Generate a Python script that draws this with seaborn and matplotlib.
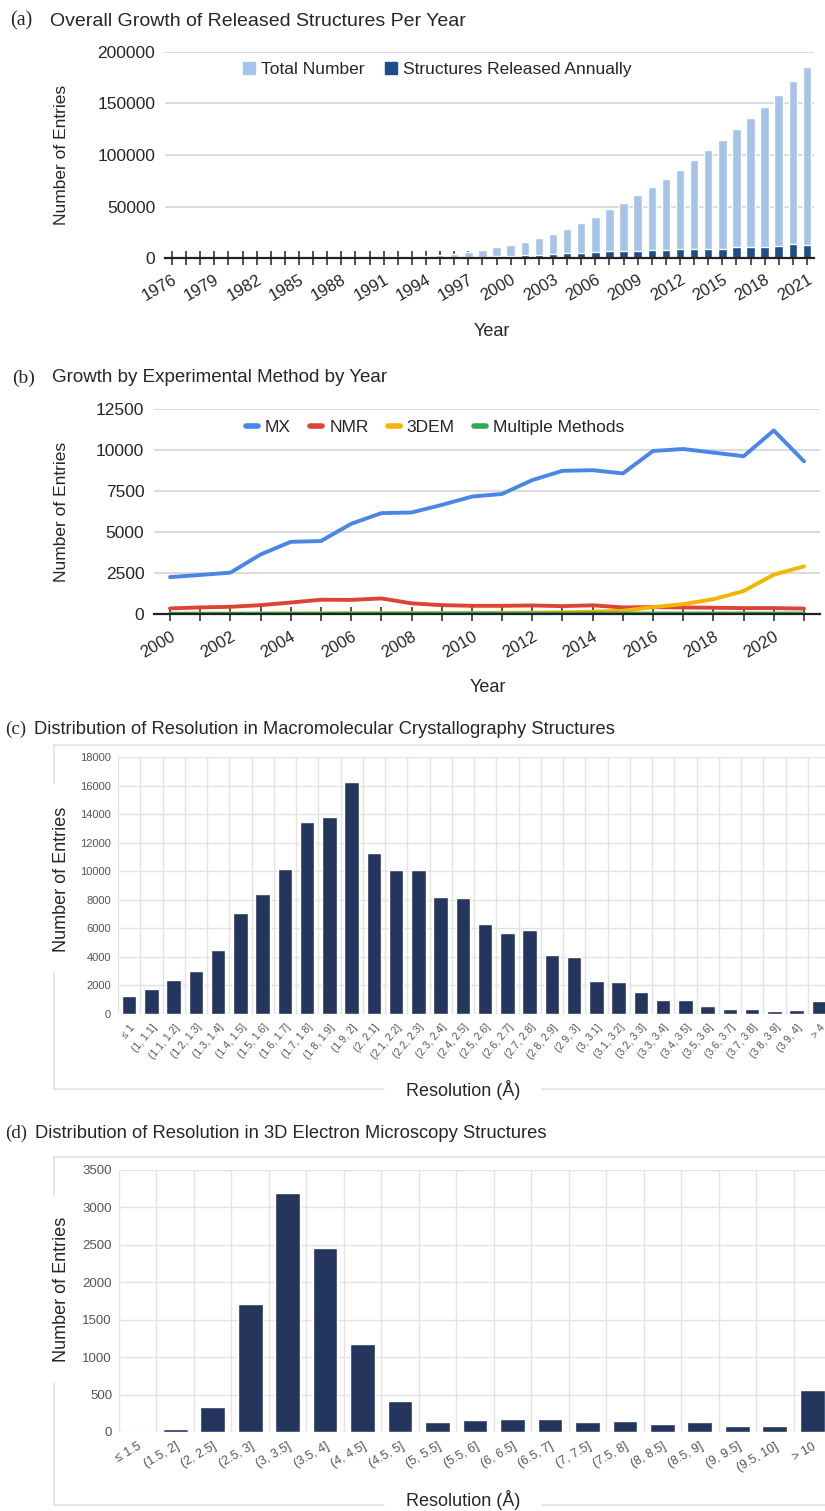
import numpy as np
import pandas as pd
import matplotlib
matplotlib.use("Agg")
import matplotlib.pyplot as plt
import seaborn as sns
from matplotlib.lines import Line2D

# ---------------- data ----------------
years_a = list(range(1976, 2022))
total_entries = [13, 36, 56, 69, 80, 114, 157, 200, 250, 284, 300, 338, 400, 475,
                 661, 883, 1231, 1500, 1900, 3200, 4500, 6100, 8000, 10900,
                 13200, 15800, 19300, 23200, 28000, 33800, 39600, 47400, 53800,
                 61500, 69300, 76700, 85400, 95000, 104700, 114400, 124800,
                 135400, 146600, 158000, 172000, 185500]
annual_entries = [13, 23, 20, 13, 11, 34, 43, 43, 50, 34, 16, 38, 62, 75,
                  186, 222, 348, 400, 500, 700, 900, 1100, 1400, 1900,
                  2620, 2820, 2980, 4200, 5120, 5350, 6400, 7150, 6900,
                  7250, 7730, 7880, 8760, 9330, 9480, 9200, 10800, 11100,
                  11150, 11430, 13980, 12580]

years_b = list(range(2000, 2022))
mx = [2250, 2380, 2520, 3630, 4400, 4450, 5500, 6150, 6190, 6650, 7160, 7320,
      8165, 8730, 8770, 8570, 9940, 10060, 9840, 9620, 11190, 9310]
nmr = [340, 400, 440, 540, 700, 870, 860, 950, 650, 540, 500, 500, 520, 480,
       530, 400, 420, 400, 380, 360, 360, 330]
em3d = [15, 18, 20, 25, 30, 35, 40, 45, 50, 55, 60, 70, 80, 100, 140, 200,
        420, 600, 900, 1400, 2400, 2900]
multi = [8, 10, 12, 14, 15, 16, 18, 20, 22, 24, 25, 26, 28, 30, 32, 30, 28,
         30, 32, 30, 28, 26]
methods = ["MX", "NMR", "3DEM", "Multiple Methods"]

mx_res_labels = ["≤ 1", "(1, 1.1]", "(1.1, 1.2]", "(1.2, 1.3]", "(1.3, 1.4]",
                 "(1.4, 1.5]", "(1.5, 1.6]", "(1.6, 1.7]", "(1.7, 1.8]",
                 "(1.8, 1.9]", "(1.9, 2]", "(2, 2.1]", "(2.1, 2.2]",
                 "(2.2, 2.3]", "(2.3, 2.4]", "(2.4, 2.5]", "(2.5, 2.6]",
                 "(2.6, 2.7]", "(2.7, 2.8]", "(2.8, 2.9]", "(2.9, 3]",
                 "(3, 3.1]", "(3.1, 3.2]", "(3.2, 3.3]", "(3.3, 3.4]",
                 "(3.4, 3.5]", "(3.5, 3.6]", "(3.6, 3.7]", "(3.7, 3.8]",
                 "(3.8, 3.9]", "(3.9, 4]", "> 4"]
mx_res_counts = [1280, 1750, 2380, 3030, 4500, 7090, 8420, 10170, 13440, 13810,
                 16240, 11290, 10100, 10100, 8210, 8140, 6300, 5670, 5860,
                 4110, 3970, 2330, 2220, 1520, 960, 960, 580, 370, 350, 230,
                 280, 890]

em_res_labels = ["≤ 1.5", "(1.5, 2]", "(2, 2.5]", "(2.5, 3]", "(3, 3.5]",
                 "(3.5, 4]", "(4, 4.5]", "(4.5, 5]", "(5, 5.5]", "(5.5, 6]",
                 "(6, 6.5]", "(6.5, 7]", "(7, 7.5]", "(7.5, 8]", "(8, 8.5]",
                 "(8.5, 9]", "(9, 9.5]", "(9.5, 10]", "> 10"]
em_res_counts = [0, 40, 340, 1710, 3190, 2460, 1180, 420, 135, 165, 170, 180,
                 135, 147, 103, 135, 85, 85, 558]

# ---------------- style ----------------
sns.set_theme(style="white")
plt.rcParams['font.family'] = ['Liberation Sans', 'DejaVu Sans']

LIGHT = '#a6c4e8'
DARK = '#1d4e89'
NAVY = '#24355e'
GRID = '#d4d4d4'
GRID2 = '#e3e3e3'
FRAME = '#e2e2e2'
TICKGRAY = '#555555'

W, H = 825, 1511
fig = plt.figure(figsize=(W / 100, H / 100), dpi=100)


def rect(left, top, right, bottom):
    return [left / W, 1 - bottom / H, (right - left) / W, (bottom - top) / H]


def ftext(x, y, s, **kw):
    return fig.text(x / W, 1 - y / H, s, **kw)


def fline(xs, ys, **kw):
    fig.add_artist(Line2D([x / W for x in xs], [1 - y / H for y in ys],
                          transform=fig.transFigure, **kw))


def panel_title(y, letter, text, xl, xt, size):
    ftext(xl, y, letter, family='Liberation Serif', fontsize=size + 0.5,
          va='center', ha='left')
    ftext(xt, y, text, fontsize=size, va='center', ha='left')


# ---------------- panel (a) ----------------
ax1 = fig.add_axes(rect(165, 51.7, 814, 258.3))
sns.barplot(x=years_a, y=total_entries, color=LIGHT, width=0.6, saturation=1,
            errorbar=None, ax=ax1)
sns.barplot(x=years_a, y=annual_entries, color=DARK, width=0.6, saturation=1,
            errorbar=None, ax=ax1)
ax1.set_xlim(-0.5, len(years_a) - 0.5)
ax1.set_ylim(0, 200000)
ax1.set_yticks(np.arange(0, 200001, 50000))
ax1.set_axisbelow(True)
ax1.yaxis.grid(True, color=GRID, linewidth=1.2)
ax1.xaxis.grid(False)
for s in ['left', 'right', 'top']:
    ax1.spines[s].set_visible(False)
ax1.spines['bottom'].set_color('#222222')
ax1.spines['bottom'].set_linewidth(1.6)
ax1.set_xticks(range(len(years_a)))
ax1.set_xticklabels([str(y) if (y - 1976) % 3 == 0 else '' for y in years_a],
                    rotation=30, ha='right', rotation_mode='anchor', fontsize=12)
ax1.tick_params(axis='x', direction='inout', length=10, width=1.1,
                color='#222222', pad=5, bottom=True)
ax1.tick_params(axis='y', length=0, labelsize=12.5, pad=7)
ax1.set_xlabel('')
ax1.set_ylabel('')
leg1 = ax1.legend(handles=[Line2D([], [], marker='s', linestyle='none', color=LIGHT, markersize=9),
                           Line2D([], [], marker='s', linestyle='none', color=DARK, markersize=9)],
                  labels=['Total Number', 'Structures Released Annually'],
                  loc='center', bbox_to_anchor=(436 / W, 1 - 69 / H),
                  bbox_transform=fig.transFigure, ncol=2, frameon=False,
                  fontsize=12.5, handletextpad=0.2, columnspacing=1.0,
                  handlelength=1.0)
panel_title(21, '(a)', 'Overall Growth of Released Structures Per Year', 10, 50, 14)
ftext(61, 155, 'Number of Entries', rotation=90, ha='center', va='center', fontsize=12.5)
ftext(492, 332, 'Year', ha='center', va='center', fontsize=13)

# ---------------- panel (b) ----------------
ax2 = fig.add_axes(rect(154, 409, 820, 614))
df_b = pd.DataFrame({
    'year': years_b * 4,
    'value': mx + nmr + em3d + multi,
    'method': [m for m in methods for _ in years_b],
})
palette_b = {'MX': '#4a86e8', 'NMR': '#db4437', '3DEM': '#f4b400',
             'Multiple Methods': '#34a853'}
sns.lineplot(data=df_b, x='year', y='value', hue='method', hue_order=methods,
             palette=palette_b, linewidth=2.8, legend=False, ax=ax2,
             solid_capstyle='round')
ax2.set_xlim(1999.47, 2021.53)
ax2.set_ylim(0, 12500)
ax2.set_yticks(np.arange(0, 12501, 2500))
ax2.set_axisbelow(True)
ax2.yaxis.grid(True, color=GRID, linewidth=1.2)
ax2.xaxis.grid(False)
for s in ['left', 'right', 'top']:
    ax2.spines[s].set_visible(False)
ax2.spines['bottom'].set_color('#222222')
ax2.spines['bottom'].set_linewidth(1.6)
ax2.set_xticks(years_b)
ax2.set_xticklabels([str(y) if y % 2 == 0 else '' for y in years_b],
                    rotation=30, ha='right', rotation_mode='anchor', fontsize=12)
ax2.tick_params(axis='x', direction='inout', length=10, width=1.1,
                color='#222222', pad=6, bottom=True)
ax2.tick_params(axis='y', length=0, labelsize=12.5, pad=7)
ax2.set_xlabel('')
ax2.set_ylabel('')
ax2.legend(handles=[Line2D([], [], color=palette_b[m], linewidth=4) for m in methods],
           labels=methods, loc='center', bbox_to_anchor=(435 / W, 1 - 427 / H),
           bbox_transform=fig.transFigure, ncol=4, frameon=False, fontsize=12.5,
           handlelength=0.7, handletextpad=0.4, columnspacing=1.1)
panel_title(378, '(b)', 'Growth by Experimental Method by Year', 12, 52, 13.5)
ftext(61, 512, 'Number of Entries', rotation=90, ha='center', va='center', fontsize=12.5)
ftext(488, 688, 'Year', ha='center', va='center', fontsize=13)


# ---------------- resolution panels ----------------
def resolution_panel(axrect, labels, counts, ymax, ystep, ytick_size,
                     xtick_size, rot):
    ax = fig.add_axes(axrect)
    sns.barplot(x=labels, y=counts, color=NAVY, width=0.66, saturation=1,
                errorbar=None, ax=ax)
    n = len(labels)
    ax.set_xlim(-0.5, n - 0.5)
    ax.set_ylim(0, ymax)
    ax.set_yticks(np.arange(0, ymax + 1, ystep))
    ax.set_xticks(np.arange(-0.5, n, 1.0), minor=True)
    ax.set_axisbelow(True)
    ax.yaxis.grid(True, color=GRID2, linewidth=1.0)
    ax.xaxis.grid(True, which='minor', color=GRID2, linewidth=1.0)
    ax.xaxis.grid(False, which='major')
    for s in ax.spines.values():
        s.set_visible(False)
    ax.set_xticks(range(n))
    ax.set_xticklabels(labels, rotation=rot, ha='right', va='top',
                       rotation_mode='anchor', fontsize=xtick_size,
                       color=TICKGRAY)
    ax.tick_params(axis='x', which='both', length=0, pad=6)
    ax.tick_params(axis='y', length=0, labelsize=ytick_size, pad=5,
                   labelcolor=TICKGRAY)
    ax.set_xlabel('')
    ax.set_ylabel('')
    return ax


ax3 = resolution_panel(rect(118, 757, 830, 1014), mx_res_labels, mx_res_counts,
                       18000, 2000, 8, 7.5, 50)
panel_title(729, '(c)', 'Distribution of Resolution in Macromolecular Crystallography Structures',
            5, 34, 13.2)
fline([54, 830], [745, 745], color=FRAME, linewidth=1.2)
fline([54, 54], [745, 783], color=FRAME, linewidth=1.2)
fline([54, 54], [973, 1089], color=FRAME, linewidth=1.2)
fline([54, 384], [1089, 1089], color=FRAME, linewidth=1.2)
fline([542, 830], [1089, 1089], color=FRAME, linewidth=1.2)
ftext(61, 879, 'Number of Entries', rotation=90, ha='center', va='center', fontsize=13)
ftext(463, 1090, 'Resolution (Å)', ha='center', va='center', fontsize=13)

ax4 = resolution_panel(rect(119, 1170, 831, 1432), em_res_labels, em_res_counts,
                       3500, 500, 9.5, 9, 30)
panel_title(1133, '(d)', 'Distribution of Resolution in 3D Electron Microscopy Structures',
            5, 35, 13.2)
fline([54, 830], [1157, 1157], color=FRAME, linewidth=1.2)
fline([54, 54], [1157, 1195], color=FRAME, linewidth=1.2)
fline([54, 54], [1383, 1505], color=FRAME, linewidth=1.2)
fline([54, 384], [1505, 1505], color=FRAME, linewidth=1.2)
fline([542, 830], [1505, 1505], color=FRAME, linewidth=1.2)
ftext(61, 1289, 'Number of Entries', rotation=90, ha='center', va='center', fontsize=13)
ftext(463, 1500, 'Resolution (Å)', ha='center', va='center', fontsize=13)

fig.savefig('out.png', dpi=100)
